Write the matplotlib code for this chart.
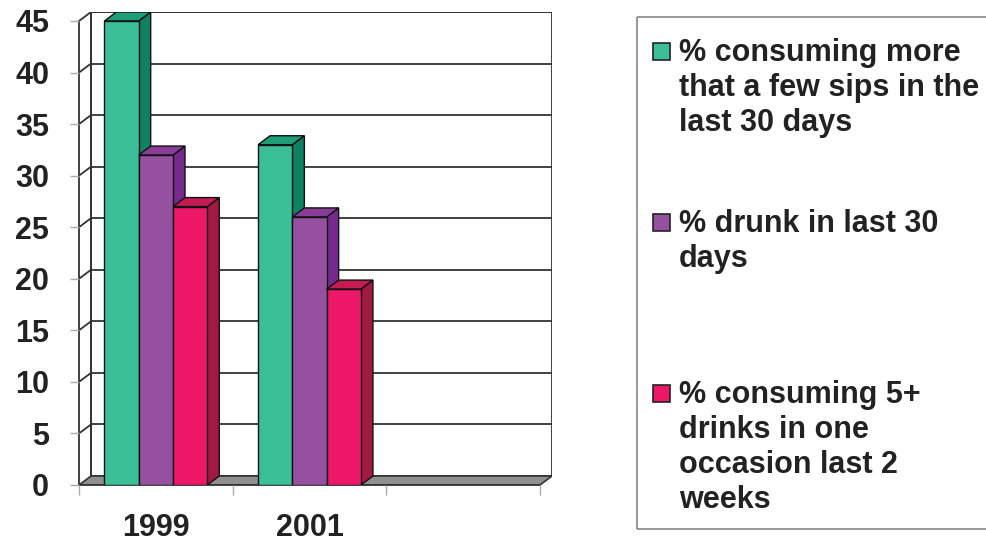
import matplotlib
matplotlib.use("Agg")
import matplotlib.pyplot as plt
from matplotlib.patches import Polygon, Rectangle
from matplotlib.lines import Line2D

categories = ["1999", "2001", ""]
series_labels = [
    "% consuming more\nthat a few sips in the\nlast 30 days",
    "% drunk in last 30\ndays",
    "% consuming 5+\ndrinks in one\noccasion last 2\nweeks",
]
values_sips = [45, 33]
values_drunk = [32, 26]
values_binge = [27, 19]
yticks = [0, 5, 10, 15, 20, 25, 30, 35, 40, 45]

front_colors = ["#3bbf96", "#9650a0", "#ee1868"]
top_colors = ["#1f9d74", "#8a3d98", "#c41c52"]
side_colors = ["#0e8262", "#772a8e", "#a01a42"]

plt.rcParams['font.family'] = ['Liberation Sans', 'DejaVu Sans']
W, H = 987, 541
fig = plt.figure(figsize=(W / 100, H / 100), dpi=100)

# axes pixel geometry
x0, x1 = 79, 552
y0, y1 = 485, 12
ax = fig.add_axes([x0 / W, (H - y0) / H, (x1 - x0) / W, (y0 - y1) / H])
ncat = len(categories)
px_per_cat = (540 - 79) / ncat
px_per_val = (485 - 21) / 45.0
ddx = 12 / px_per_cat
ddy = 9 / px_per_val
ax.set_xlim(0, ncat + ddx)
ax.set_ylim(0, 45 + ddy)
ymax = max(yticks)

wall_c = "#333333"
# back wall
ax.add_patch(Rectangle((ddx, ddy), ncat, ymax, facecolor="white", edgecolor=wall_c, lw=1.3, zorder=1))
for v in yticks[1:]:
    ax.plot([ddx, ncat + ddx], [v + ddy, v + ddy], color=wall_c, lw=1.3, zorder=1.1)
    ax.plot([0, ddx], [v, v + ddy], color=wall_c, lw=1.3, zorder=1.1)
ax.plot([ddx, ddx], [ddy, ymax + ddy], color=wall_c, lw=1.3, zorder=1.1)
# floor
ax.add_patch(Polygon([(0, 0), (ncat, 0), (ncat + ddx, ddy), (ddx, ddy)], closed=True,
                     facecolor="#8f8f8f", edgecolor=wall_c, lw=1.2, zorder=1.2))

# bars
series = [values_sips, values_drunk, values_binge]
w = 34.3 / px_per_cat
for i in range(len(values_sips)):
    start = i + 0.5 - 1.5 * w
    for j, vals in enumerate(series):
        v = vals[i]
        xl = start + j * w
        z = 2 + i * 3 + j
        ax.add_patch(Polygon([(xl + w, 0), (xl + w + ddx, ddy), (xl + w + ddx, v + ddy), (xl + w, v)],
                             closed=True, facecolor=side_colors[j], edgecolor="#111111", lw=1, zorder=z))
        ax.add_patch(Polygon([(xl, v), (xl + w, v), (xl + w + ddx, v + ddy), (xl + ddx, v + ddy)],
                             closed=True, facecolor=top_colors[j], edgecolor="#111111", lw=1, zorder=z))
        ax.add_patch(Rectangle((xl, 0), w, v, facecolor=front_colors[j], edgecolor="#111111", lw=1, zorder=z))

# axes styling
for s in ["top", "right"]:
    ax.spines[s].set_visible(False)
ax.spines["left"].set_bounds(0, ymax)
ax.spines["bottom"].set_bounds(0, ncat)
ax.spines["left"].set_color(wall_c)
ax.spines["bottom"].set_color(wall_c)
ax.spines["left"].set_linewidth(1.3)
ax.spines["bottom"].set_linewidth(1.3)
ax.spines["left"].set_zorder(1.3)
ax.spines["bottom"].set_zorder(1.3)
ax.set_yticks(yticks)
ax.set_yticklabels([str(t) for t in yticks], fontsize=22, fontweight="bold", color="#222222")
ax.tick_params(axis="y", length=6.5, width=1, color="#aaaaaa", pad=15)
ax.set_xticks(range(ncat + 1))
ax.set_xticklabels([])
ax.set_xticks([k + 0.5 for k in range(ncat)], minor=True)
ax.set_xticklabels(categories, minor=True, fontsize=22, fontweight="bold", color="#222222")
ax.tick_params(axis="x", which="major", length=7, width=1, color="#aaaaaa")
ax.tick_params(axis="x", which="minor", length=0, pad=20)

# legend box (left, top, bottom edges; right edge lies outside the picture)
lx, ltop, lbot = 637, 17, 529
for xs, ys in [([lx, lx], [ltop, lbot]), ([lx, W], [ltop, ltop]), ([lx, W], [lbot, lbot])]:
    fig.add_artist(Line2D([x / W for x in xs], [(H - y) / H for y in ys], transform=fig.transFigure,
                          color="#888888", lw=1.2, solid_capstyle="butt"))
baselines = [61, 232, 403]
line_step = 35
for j, lab in enumerate(series_labels):
    sq_top = baselines[j] - 18
    fig.patches.append(Rectangle((653 / W, (H - sq_top - 17) / H), 17 / W, 17 / H, transform=fig.transFigure,
                                 facecolor=front_colors[j], edgecolor="#222222", lw=1.2))
    for k, line in enumerate(lab.split("\n")):
        fig.text(679 / W, (H - baselines[j] - k * line_step) / H, line, fontsize=22, fontweight="bold",
                 color="#222222", va="baseline", ha="left")

fig.savefig("out.png", dpi=100)
